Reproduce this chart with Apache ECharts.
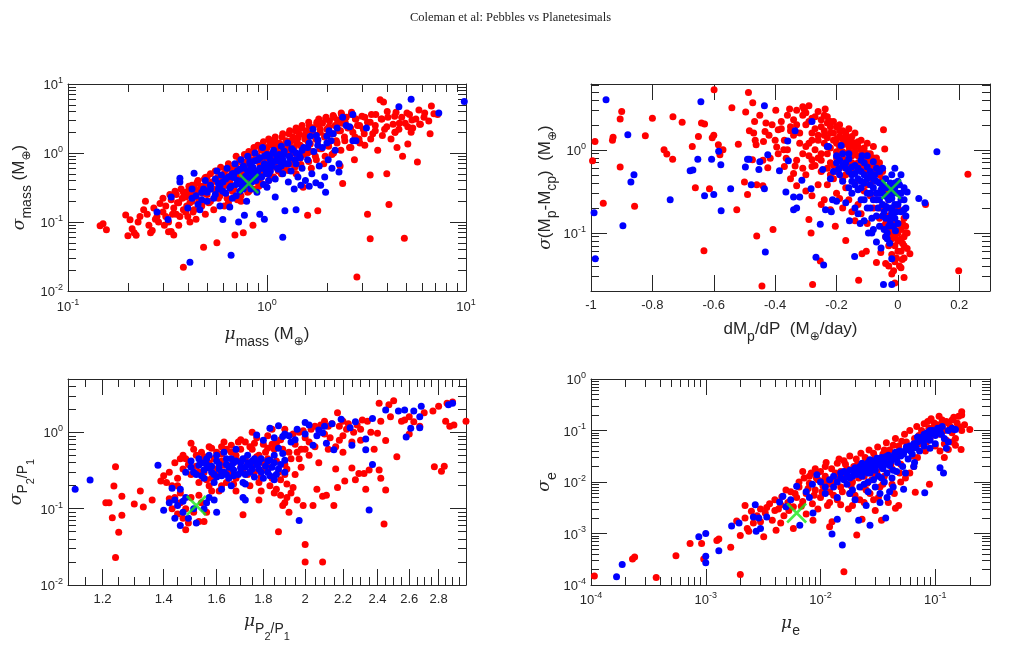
<!DOCTYPE html>
<html><head><meta charset="utf-8">
<script src="https://cdn.jsdelivr.net/npm/echarts@6/dist/echarts.min.js"></script>
<style>html,body{margin:0;padding:0;background:#fff}#c{width:1021px;height:663px}</style>
</head><body><div id="c"></div>
<script>
// ---------- Panel 1: mu_mass vs sigma_mass ----------
const massRed = [
[0.145,0.088],[0.15,0.094],[0.156,0.077],[0.195,0.126],[0.2,0.063],[0.205,0.108],[0.21,0.08],[0.215,0.07],[0.22,0.064],[0.225,0.1],[0.23,0.12],[0.24,0.15],[0.245,0.2],[0.25,0.13],[0.255,0.09],[0.26,0.07],[0.265,0.075],[0.27,0.16],[0.275,0.11],[0.28,0.12],[0.285,0.1],[0.29,0.185],[0.3,0.14],[0.3,0.22],[0.305,0.09],[0.31,0.12],[0.31,0.17],[0.32,0.072],[0.32,0.1],[0.325,0.25],[0.33,0.073],[0.33,0.21],[0.335,0.13],[0.34,0.065],[0.34,0.16],[0.345,0.28],[0.35,0.13],[0.35,0.25],[0.355,0.19],[0.36,0.09],[0.36,0.19],[0.365,0.12],[0.37,0.3],[0.375,0.22],[0.38,0.022],[0.38,0.15],[0.385,0.26],[0.39,0.23],[0.395,0.17],[0.4,0.12],[0.4,0.28],[0.405,0.33],[0.41,0.19],[0.415,0.25],[0.42,0.34],[0.425,0.14],[0.43,0.15],[0.435,0.29],[0.44,0.24],[0.445,0.37],[0.45,0.4],[0.455,0.2],[0.46,0.29],[0.465,0.33],[0.47,0.18],[0.475,0.26],[0.48,0.043],[0.485,0.42],[0.49,0.34],[0.5,0.25],[0.5,0.45],[0.51,0.31],[0.52,0.2],[0.52,0.5],[0.53,0.38],[0.54,0.3],[0.55,0.55],[0.55,0.23],[0.56,0.05],[0.565,0.44],[0.57,0.26],[0.58,0.42],[0.585,0.62],[0.59,0.35],[0.6,0.33],[0.61,0.5],[0.62,0.57],[0.63,0.22],[0.64,0.7],[0.65,0.39],[0.66,0.48],[0.67,0.6],[0.68,0.3],[0.69,0.065],[0.7,0.62],[0.7,0.9],[0.71,0.45],[0.72,0.36],[0.73,0.75],[0.74,0.2],[0.75,0.55],[0.76,0.07],[0.77,0.95],[0.78,0.5],[0.79,0.7],[0.8,0.27],[0.81,1.05],[0.82,0.35],[0.83,0.8],[0.85,0.09],[0.85,0.6],[0.86,1.2],[0.88,0.3],[0.89,0.9],[0.9,0.38],[0.9,1.3],[0.92,0.7],[0.94,1.1],[0.95,0.5],[0.96,1.45],[0.98,0.85],[1.0,1.2],[1.0,0.65],[1.02,1.6],[1.04,0.95],[1.05,0.45],[1.07,1.3],[1.08,0.75],[1.1,1.7],[1.12,1.05],[1.14,0.55],[1.15,1.4],[1.17,0.85],[1.2,1.9],[1.2,1.2],[1.22,0.6],[1.25,1.5],[1.27,0.95],[1.3,2.1],[1.3,1.25],[1.32,0.7],[1.35,1.7],[1.37,1.0],[1.4,2.3],[1.4,0.5],[1.42,1.4],[1.45,1.9],[1.47,0.85],[1.5,2.5],[1.5,1.2],[1.52,0.32],[1.55,1.6],[1.57,2.1],[1.6,0.125],[1.6,1.0],[1.62,2.8],[1.65,1.35],[1.67,0.6],[1.7,2.3],[1.72,1.8],[1.75,0.9],[1.78,2.6],[1.8,0.145],[1.8,1.5],[1.82,3.1],[1.85,2.0],[1.88,1.15],[1.9,2.7],[1.93,0.7],[1.95,1.7],[1.98,3.3],[2.0,2.2],[2.03,1.3],[2.06,2.9],[2.1,1.9],[2.12,0.95],[2.15,3.5],[2.2,2.5],[2.23,1.5],[2.26,3.0],[2.3,2.1],[2.33,0.65],[2.36,3.8],[2.4,0.36],[2.4,2.7],[2.45,1.7],[2.5,3.3],[2.55,2.3],[2.6,1.2],[2.65,3.6],[2.7,2.0],[2.75,0.8],[2.8,3.1],[2.83,0.016],[2.85,2.5],[2.9,1.6],[3.0,3.4],[3.05,2.2],[3.1,1.3],[3.2,0.13],[3.2,2.8],[3.3,0.057],[3.3,0.48],[3.35,3.6],[3.4,1.9],[3.5,2.5],[3.6,1.1],[3.7,5.9],[3.75,3.1],[3.85,5.5],[3.9,2.2],[4.0,0.5],[4.05,3.3],[4.1,0.18],[4.2,1.6],[4.3,2.6],[4.45,3.9],[4.5,1.2],[4.6,2.2],[4.75,3.3],[4.8,0.9],[4.9,0.058],[4.95,2.7],[5.1,1.35],[5.2,3.6],[5.4,2.3],[5.6,3.1],[5.7,0.74],[5.9,2.6],[6.2,3.8],[6.5,2.9],[6.7,4.8],[6.9,3.7],[7.2,3.6],[6.6,1.9],[5.3,2.0],[4.4,2.0],
[0.41,0.1],[0.39,0.14],[0.42,0.2],[0.38,0.27],[0.43,0.32],[0.44,0.11],[0.47,0.17],[0.43,0.23],[0.47,0.31],[0.49,0.13],[0.51,0.19],[0.48,0.27],[0.52,0.36],[0.49,0.44],[0.54,0.15],[0.57,0.22],[0.53,0.3],[0.57,0.4],[0.61,0.17],[0.58,0.24],[0.62,0.34],[0.59,0.46],[0.63,0.6],[0.64,0.19],[0.67,0.28],[0.63,0.38],[0.67,0.52],[0.71,0.21],[0.68,0.3],[0.72,0.42],[0.69,0.58],[0.73,0.8],[0.74,0.24],[0.77,0.33],[0.73,0.47],[0.77,0.66],[0.81,0.28],[0.78,0.38],[0.83,0.55],[0.79,0.75],[0.84,1.0],[0.84,0.3],[0.87,0.42],[0.83,0.6],[0.88,0.85],[0.91,0.33],[0.88,0.46],[0.93,0.65],[0.89,0.92],[0.93,1.15],[0.94,0.36],[0.97,0.5],[0.93,0.72],[0.98,1.0],[1.02,0.4],[0.98,0.55],[1.03,0.78],[0.99,1.1],[1.04,1.4],[1.08,0.45],[1.11,0.62],[1.07,0.88],[1.12,1.25],[1.09,1.55],[1.18,0.5],[1.22,0.7],[1.17,0.98],[1.23,1.35],[1.19,1.7],[1.28,0.56],[1.32,0.78],[1.27,1.1],[1.33,1.5],[1.29,1.9],[1.38,0.62],[1.42,0.86],[1.37,1.2],[1.43,1.65],[1.39,2.1],[1.48,0.68],[1.53,0.95],[1.47,1.3],[1.54,1.8],[1.49,2.3],[1.62,0.75],[1.68,1.05],[1.61,1.45],[1.69,2.0],[1.63,2.5],[1.77,0.8],[1.84,1.15],[1.76,1.6],[1.85,2.2],[1.78,2.8],[1.96,0.9],[2.04,1.25],[1.95,1.75],[2.05,2.4],[1.97,3.1],[2.16,1.0],[2.25,1.4],[2.15,1.9],[2.26,2.6],[2.17,3.3],[2.35,1.1],[2.46,1.5],[2.34,2.1],[2.47,2.8],[2.37,3.6],[2.64,1.2],[2.77,1.7],[2.63,2.3],[2.78,3.1],[2.66,3.9],[2.93,1.4],[3.08,1.9],[2.92,2.5],[3.1,3.3],[3.32,1.6],[3.5,2.1],[3.3,2.8],[3.52,3.6],[3.8,1.8],[4.0,2.4],[3.78,3.1],[4.02,4.0],[4.4,2.0],[4.62,2.7],[4.38,3.4],[5.1,2.4],[5.35,3.0],[5.05,3.8],[5.85,2.6],[6.15,3.3],[5.8,4.2]
];
const massBlue = [
[0.28,0.14],[0.318,0.109],[0.33,0.23],[0.365,0.43],[0.365,0.38],[0.41,0.026],[0.42,0.3],[0.43,0.51],[0.44,0.24],[0.46,0.15],[0.47,0.21],[0.48,0.3],[0.49,0.4],[0.5,0.27],[0.52,0.34],[0.54,0.22],[0.55,0.42],[0.56,0.55],[0.57,0.3],[0.58,0.17],[0.59,0.48],[0.6,0.109],[0.6,0.38],[0.62,0.26],[0.63,0.6],[0.64,0.45],[0.65,0.165],[0.66,0.033],[0.66,0.33],[0.67,0.22],[0.68,0.5],[0.69,0.7],[0.7,0.24],[0.71,0.4],[0.72,0.1],[0.73,0.58],[0.74,0.8],[0.75,0.33],[0.76,0.65],[0.77,0.125],[0.78,0.46],[0.79,0.2],[0.8,0.9],[0.8,0.55],[0.82,0.75],[0.83,0.3],[0.84,0.42],[0.85,0.62],[0.87,1.0],[0.88,0.5],[0.89,0.27],[0.9,0.8],[0.92,0.13],[0.92,0.6],[0.94,0.45],[0.95,1.2],[0.96,0.35],[0.97,0.11],[0.97,0.7],[0.99,0.55],[1.0,0.95],[1.0,0.32],[1.02,0.5],[1.04,0.8],[1.06,0.65],[1.08,1.1],[1.1,0.23],[1.1,0.42],[1.12,0.9],[1.14,0.58],[1.16,0.75],[1.18,1.25],[1.2,0.06],[1.2,0.5],[1.22,0.95],[1.23,0.145],[1.25,0.7],[1.27,1.4],[1.28,0.38],[1.3,0.85],[1.32,0.55],[1.35,1.1],[1.37,0.3],[1.4,0.15],[1.4,0.7],[1.43,0.45],[1.45,0.95],[1.48,0.34],[1.5,0.6],[1.53,1.2],[1.56,0.4],[1.6,0.8],[1.63,0.33],[1.65,1.75],[1.68,0.5],[1.7,2.2],[1.72,1.05],[1.76,0.37],[1.8,1.55],[1.83,0.65],[1.86,0.34],[1.9,1.2],[1.95,0.45],[1.97,0.27],[2.0,1.75],[2.03,0.8],[2.05,2.1],[2.1,1.5],[2.12,0.6],[2.15,1.9],[2.2,1.1],[2.3,0.7],[2.3,0.53],[2.4,3.3],[2.5,2.5],[2.6,2.4],[2.7,3.6],[2.7,1.5],[2.8,1.5],[3.16,2.3],[4.6,4.7],[5.3,6.0],[7.3,3.8],[9.8,5.6],
[0.4,0.16],[0.42,0.22],[0.45,0.18],[0.47,0.27],[0.5,0.2],[0.52,0.3],[0.55,0.25],[0.57,0.36],[0.6,0.28],[0.62,0.42],[0.65,0.31],[0.67,0.5],[0.7,0.35],[0.71,0.55],[0.73,0.28],[0.75,0.4],[0.77,0.6],[0.76,0.3],[0.8,0.45],[0.82,0.7],[0.79,0.35],[0.85,0.5],[0.87,0.77],[0.84,0.38],[0.9,0.55],[0.92,0.85],[0.88,0.4],[0.95,0.6],[0.97,0.9],[0.93,0.45],[1.0,0.66],[1.03,0.86],[0.99,0.5],[1.02,0.4],[1.05,0.7],[1.07,1.0],[1.04,0.55],[1.1,0.76],[1.13,0.6],[1.2,0.8],[1.22,1.06],[1.18,0.65],[1.3,0.9],[1.33,1.15],[1.28,0.7],[1.4,1.0],[1.38,0.8],[1.5,1.1],[1.47,0.85],[1.6,1.2],[1.63,1.4],[1.8,1.3],[1.77,1.8],[2.0,1.4],[2.25,2.3],[1.15,0.95],[0.83,0.58],[0.68,0.44],[0.58,0.33]
];
const massBest = [[0.81,0.36]];

// ---------- Panel 2: dMp/dP vs sigma(Mp-Mcp) ----------
const slopeRed = [
[-0.995,0.74],[-0.987,1.26],[-0.96,0.227],[-0.93,1.3],[-0.928,1.42],[-0.905,0.62],[-0.905,2.35],[-0.9,2.9],[-0.858,0.21],[-0.823,1.48],[-0.8,2.4],[-0.762,1.0],[-0.753,0.89],[-0.734,0.77],[-0.733,2.5],[-0.703,2.15],[-0.67,1.1],[-0.66,0.35],[-0.65,1.45],[-0.64,2.1],[-0.632,0.061],[-0.63,2.05],[-0.614,0.34],[-0.605,1.4],[-0.6,1.5],[-0.599,5.3],[-0.585,1.15],[-0.58,0.87],[-0.57,1.0],[-0.541,3.2],[-0.525,0.19],[-0.52,1.17],[-0.5,0.41],[-0.496,2.85],[-0.49,0.29],[-0.487,4.9],[-0.484,1.7],[-0.474,0.76],[-0.473,3.7],[-0.467,2.2],[-0.465,1.3],[-0.462,1.15],[-0.46,0.38],[-0.46,0.092],[-0.443,0.023],[-0.44,0.37],[-0.438,1.26],[-0.433,1.66],[-0.424,0.61],[-0.416,0.79],[-0.407,0.11],[-0.398,3.0],[-0.395,1.08],[-0.39,1.75],[-0.38,2.2],[-0.372,1.0],[-0.37,0.63],[-0.364,0.79],[-0.353,3.1],[-0.35,1.9],[-0.34,0.52],[-0.335,0.64],[-0.33,0.37],[-0.31,3.3],[-0.305,3.05],[-0.29,0.145],[-0.283,0.1],[-0.28,0.76],[-0.28,0.63],[-0.278,0.024],[-0.253,0.046],[-0.237,3.1],[-0.23,2.1],[-0.204,0.12],[-0.17,0.081],[-0.128,0.027],[-0.117,0.056],[-0.103,0.06],[-0.07,0.044],[-0.056,0.058],[-0.047,1.75],[-0.043,1.02],[-0.04,0.043],[-0.014,0.035],[-0.01,0.025],[0.02,0.029],[0.014,0.048],[0.039,0.056],[0.09,0.22],[0.198,0.035],[0.228,0.51],
[-0.3,2.8],[-0.29,2.2],[-0.28,1.6],[-0.27,2.5],[-0.26,1.3],[-0.25,1.9],[-0.25,0.9],[-0.24,1.5],[-0.23,1.1],[-0.22,0.7],[-0.22,1.6],[-0.21,1.3],[-0.2,0.95],[-0.2,1.9],[-0.19,1.45],[-0.19,0.6],[-0.18,1.15],[-0.18,0.8],[-0.17,1.6],[-0.17,0.5],[-0.16,1.3],[-0.16,0.95],[-0.15,0.7],[-0.15,1.45],[-0.14,1.1],[-0.14,0.4],[-0.13,0.85],[-0.13,1.25],[-0.12,0.6],[-0.12,1.0],[-0.11,0.75],[-0.11,0.32],[-0.1,0.9],[-0.1,0.5],[-0.09,0.65],[-0.09,0.28],[-0.08,0.8],[-0.08,0.2],[-0.07,0.55],[-0.06,0.15],[-0.06,0.7],[-0.05,0.12],[-0.05,0.45],[-0.04,0.09],[-0.03,0.07],[-0.03,0.25],[-0.02,0.1],[-0.02,0.055],[-0.01,0.14],[-0.01,0.045],[0.0,0.08],[0.0,0.2],[0.01,0.11],[0.01,0.06],[0.02,0.09],[0.02,0.15],[0.03,0.1],[0.03,0.065],[-0.21,0.45],[-0.23,0.38],[-0.25,0.55],[-0.27,0.65],[-0.28,0.28],[-0.24,0.25],[-0.2,0.3],[-0.18,0.2],[-0.16,0.25],[-0.15,0.18],[-0.14,0.14],[-0.13,0.22],[-0.12,0.17],[-0.1,0.13],[-0.32,1.2],[-0.33,2.0],[-0.34,1.5],[-0.36,2.6],[-0.37,1.3],[-0.39,0.9],[-0.41,2.0],[-0.42,1.5],[-0.44,0.75],[-0.45,2.6],[-0.31,0.9],[-0.3,0.5],[-0.29,1.2],[-0.26,0.8],[-0.24,2.6],[-0.22,2.2],[-0.2,1.35],[-0.19,2.0],[-0.18,1.7],[-0.17,1.2],[-0.16,1.8],[-0.15,1.1],[-0.14,1.6],[-0.13,0.6],[-0.12,1.3],[-0.11,1.05],[-0.1,1.2],[-0.09,0.9],[-0.08,1.1],[-0.07,0.8],[-0.06,0.5],[-0.05,0.35],[-0.04,0.3],[-0.02,0.18],[-0.01,0.09],[0.0,0.13],[0.005,0.04],[0.015,0.075],[0.025,0.12],[-0.03,0.04],[-0.02,0.032],[-0.23,0.9],[-0.21,0.65],[-0.19,0.85],[-0.17,0.35],[-0.35,0.45],[-0.33,0.75],[-0.3,0.32],[-0.26,0.38],[-0.25,0.22],[-0.22,0.19],[-0.19,0.26],
[-0.33,3.0],[-0.31,2.6],[-0.3,2.0],[-0.29,3.4],[-0.28,2.4],[-0.27,1.8],[-0.26,2.9],[-0.26,1.5],[-0.25,2.3],[-0.24,1.7],[-0.24,1.2],[-0.23,2.5],[-0.23,1.4],[-0.22,1.9],[-0.22,1.05],[-0.21,2.2],[-0.21,1.6],[-0.2,1.2],[-0.2,0.8],[-0.19,1.7],[-0.19,1.1],[-0.18,1.35],[-0.18,0.95],[-0.17,1.5],[-0.17,0.75],[-0.16,1.1],[-0.16,0.65],[-0.15,1.25],[-0.15,0.85],[-0.14,0.95],[-0.14,0.55],[-0.13,1.1],[-0.13,0.7],[-0.12,0.85],[-0.11,0.95],[-0.11,0.55],[-0.1,0.7],[-0.1,0.38],[-0.09,0.8],[-0.08,0.6],[-0.08,0.42],[-0.07,0.7],[-0.07,0.3],[-0.06,0.6],[-0.05,0.55],[-0.04,0.2],[-0.03,0.16],[-0.02,0.13],[-0.01,0.11],[0.0,0.1],[0.01,0.085],[0.015,0.13],[0.02,0.07],[0.025,0.1],[0.0,0.06],[-0.01,0.07],[-0.02,0.085],[-0.03,0.11],[-0.04,0.13],[-0.05,0.16],[-0.06,0.2],[-0.005,0.05],[0.01,0.038],[0.02,0.05],[-0.35,1.7],[-0.34,2.3],[-0.32,1.6],[-0.3,1.1],[-0.28,1.3],[-0.27,1.0],[-0.25,0.75],[-0.23,0.6],[-0.22,0.5],[-0.2,0.55],[-0.18,0.45],[-0.29,0.85],[-0.31,0.6],[-0.4,1.3],[-0.38,1.8],[-0.36,1.0],[-0.43,2.1],[-0.47,1.6]
];
const slopeBlue = [
[-0.99,0.175],[-0.986,0.049],[-0.951,4.0],[-0.896,0.122],[-0.88,1.52],[-0.86,0.5],[-0.87,0.41],[-0.742,0.25],[-0.677,0.56],[-0.668,0.57],[-0.652,0.77],[-0.642,3.8],[-0.63,0.28],[-0.607,0.77],[-0.6,0.29],[-0.584,0.96],[-0.577,0.66],[-0.576,0.185],[-0.545,0.34],[-0.497,0.62],[-0.49,0.77],[-0.485,0.77],[-0.478,0.38],[-0.453,0.58],[-0.45,0.72],[-0.435,3.4],[-0.435,0.34],[-0.432,0.059],[-0.424,0.87],[-0.386,0.56],[-0.365,0.31],[-0.359,1.28],[-0.357,0.74],[-0.34,0.27],[-0.34,0.19],[-0.335,1.7],[-0.33,0.2],[-0.32,0.27],[-0.313,0.43],[-0.283,0.34],[-0.28,2.2],[-0.267,0.051],[-0.253,0.127],[-0.245,0.58],[-0.242,0.041],[-0.236,0.19],[-0.226,1.1],[-0.217,0.18],[-0.213,0.25],[-0.2,0.24],[-0.193,0.59],[-0.185,1.13],[-0.158,0.14],[-0.141,0.052],[-0.123,0.13],[-0.117,0.85],[-0.096,0.1],[-0.085,0.1],[-0.07,0.078],[-0.055,0.066],[-0.047,0.024],[-0.027,0.075],[-0.02,0.024],[-0.02,0.049],[-0.008,0.106],[0.026,0.2],[0.026,0.16],[0.03,0.31],[0.068,0.26],[0.088,0.23],[0.127,0.95],
[-0.12,0.55],[-0.11,0.7],[-0.11,0.4],[-0.1,0.62],[-0.1,0.3],[-0.09,0.48],[-0.09,0.2],[-0.08,0.72],[-0.08,0.35],[-0.07,0.42],[-0.07,0.25],[-0.07,0.16],[-0.06,0.55],[-0.06,0.3],[-0.06,0.12],[-0.05,0.38],[-0.05,0.22],[-0.05,0.6],[-0.04,0.45],[-0.04,0.28],[-0.04,0.15],[-0.04,0.09],[-0.03,0.35],[-0.03,0.2],[-0.03,0.12],[-0.02,0.5],[-0.02,0.26],[-0.02,0.17],[-0.01,0.4],[-0.01,0.6],[-0.01,0.22],[0,0.3],[0,0.13],[0.01,0.5],[0.01,0.25],[0.02,0.35],[0.02,0.19],[-0.13,0.45],[-0.14,0.65],[-0.15,0.5],[-0.16,0.35],[-0.17,0.6],[-0.18,0.42],[-0.2,0.7],[-0.21,0.55],[-0.22,0.45],[-0.12,0.25],[-0.13,0.17],[-0.11,0.14],[-0.08,0.11],[-0.09,0.38],[-0.075,0.5],[-0.065,0.2],[-0.055,0.33],[-0.045,0.18],[-0.035,0.27],[-0.025,0.4],[-0.015,0.3],[-0.005,0.18],[0.005,0.38],[-0.1,0.85],[-0.12,0.75],[-0.15,0.3],[-0.14,0.2],[-0.17,0.23],[-0.19,0.5],[-0.23,1.1],[-0.16,0.9],[-0.085,0.15],[-0.045,0.11],[-0.035,0.085],
[-0.2,0.85],[-0.19,0.75],[-0.18,0.9],[-0.18,0.65],[-0.17,0.7],[-0.16,0.55],[-0.16,0.78],[-0.15,0.62],[-0.15,0.42],[-0.14,0.52],[-0.14,0.38],[-0.13,0.6],[-0.13,0.33],[-0.12,0.42],[-0.12,0.35],[-0.11,0.5],[-0.11,0.25],[-0.1,0.45],[-0.1,0.2],[-0.09,0.3],[-0.09,0.55],[-0.08,0.25],[-0.08,0.45],[-0.07,0.3],[-0.07,0.6],[-0.06,0.25],[-0.06,0.4],[-0.05,0.3],[-0.05,0.16],[-0.04,0.35],[-0.04,0.21],[-0.03,0.25],[-0.03,0.15],[-0.02,0.3],[-0.02,0.2],[-0.01,0.35],[-0.01,0.15],[0.0,0.22],[0.0,0.42],[0.01,0.3],[0.01,0.18],[0.02,0.25],[-0.025,0.13],[-0.035,0.1],[-0.015,0.12]
];
const slopeBest = [[-0.022,0.334]];

// ---------- Panel 3: mu_{P2/P1} vs sigma_{P2/P1} ----------
const periodRed = [
[1.21,0.12],[1.22,0.12],[1.235,0.198],[1.24,0.355],[1.24,0.023],[1.23,0.076],[1.25,0.049],[1.26,0.082],[1.26,0.146],[1.3,0.115],[1.32,0.17],[1.33,0.105],[1.36,0.13],[1.39,0.23],[1.4,0.27],
[1.42,0.135],[1.43,0.1],[1.44,0.14],[1.45,0.085],[1.46,0.12],[1.47,0.075],[1.48,0.053],[1.48,0.1],[1.5,0.14],[1.51,0.09],[1.53,0.068],[1.55,0.068],[1.56,0.09],[1.54,0.12],[1.49,0.065],[1.46,0.16],
[1.42,0.3],[1.44,0.4],[1.45,0.25],[1.47,0.33],[1.48,0.45],[1.5,0.28],[1.5,0.72],[1.52,0.36],[1.53,0.22],[1.55,0.48],[1.55,0.3],[1.57,0.4],[1.58,0.25],[1.6,0.55],[1.6,0.33],[1.62,0.2],[1.62,0.42],[1.64,0.6],[1.65,0.3],[1.66,0.37],[1.68,0.5],[1.68,0.25],[1.7,0.8],[1.7,0.35],[1.71,0.083],[1.72,0.45],[1.73,0.28],[1.75,1.0],[1.75,0.6],[1.76,0.38],[1.78,0.5],[1.78,0.22],[1.8,0.7],[1.8,0.32],[1.82,0.9],[1.82,0.45],[1.84,0.25],[1.85,0.6],[1.86,0.18],[1.87,0.05],[1.88,0.15],[1.89,0.11],[1.9,0.12],[1.9,0.38],[1.91,0.21],[1.92,0.09],[1.93,0.16],[1.88,0.8],[1.9,1.1],[1.92,0.55],
[1.58,0.62],[1.63,0.75],[1.66,0.68],[1.72,0.75],[1.77,0.85],[1.84,1.1],[1.86,0.72],[1.94,0.95],[1.97,1.0],[1.52,0.5],[1.57,0.2],[1.61,0.17],[1.67,0.21],[1.74,0.2],[1.79,0.17],[1.83,0.2],[1.85,0.16],
[1.95,0.7],[1.97,0.45],[1.99,0.11],[2.0,0.034],[2.0,0.02],[2.0,0.85],[2.02,0.5],[2.04,0.11],[2.05,1.2],[2.06,0.18],[2.07,0.4],[2.09,0.145],[2.09,0.02],[2.1,0.95],[2.11,0.15],[2.12,0.6],[2.14,1.3],[2.15,0.11],[2.16,0.33],[2.17,0.19],[2.17,1.8],[2.18,0.79],[2.2,0.55],[2.21,0.23],[2.22,1.1],[2.25,0.34],[2.25,0.75],[2.27,0.24],[2.28,1.25],[2.29,0.29],[2.3,0.79],[2.32,0.29],[2.33,0.18],[2.34,1.4],[2.35,0.32],[2.36,1.0],[2.38,0.6],[2.4,0.97],[2.41,0.32],[2.41,2.4],[2.42,1.4],[2.42,0.25],[2.44,0.063],[2.45,0.175],[2.45,0.78],[2.47,2.3],[2.48,1.6],[2.52,0.48],[2.55,1.4],[2.57,1.45],[2.6,0.95],[2.63,1.38],[2.67,1.2],[2.7,1.8],[2.76,1.9],[2.77,0.355],[2.82,0.31],[2.84,0.36],[2.85,1.4],[2.88,1.2],[2.9,2.5],[2.91,1.25],[3.0,1.4],[2.8,2.2],[2.86,2.4],[2.5,2.6],[2.6,1.6],[2.3,1.1],[2.2,1.4],[2.12,1.2],[2.05,0.65],[1.98,0.6],
[1.45,0.2],[1.47,0.5],[1.49,0.38],[1.51,0.6],[1.53,0.3],[1.54,0.55],[1.56,0.24],[1.57,0.65],[1.59,0.45],[1.61,0.3],[1.62,0.52],[1.63,0.37],[1.64,0.22],[1.66,0.55],[1.67,0.28],[1.69,0.42],[1.7,0.6],[1.71,0.3],[1.73,0.38],[1.74,0.65],[1.76,0.3],[1.77,0.48],[1.79,0.26],[1.8,0.4],[1.81,0.55],[1.83,0.35],[1.84,0.7],[1.86,0.42],[1.87,0.3],[1.89,0.6],[1.91,0.33],[1.93,0.45],[1.95,0.28],[1.96,0.55],[1.98,0.35],[2.0,0.6],[2.02,0.75],[1.9,0.28],[1.88,0.24],[1.82,0.62],[1.76,0.72],[1.69,0.75],[1.62,0.65],[1.55,0.4],[1.43,0.2],[1.41,0.22],[1.46,0.45],[1.53,0.15],[1.58,0.17],[1.68,0.17],[1.78,0.13],[1.91,0.14],[1.94,0.19],[1.96,0.13],[2.08,1.25],[2.1,1.4],[2.03,1.1],[1.99,1.05],[2.13,0.85],[2.18,1.2],[2.23,1.3],[2.26,1.0],[2.31,1.45],[2.2,0.9],[2.16,0.65]
];
const periodBlue = [
[1.12,0.18],[1.163,0.237],[1.38,0.37],[1.4,0.095],[1.42,0.12],[1.43,0.185],[1.44,0.075],[1.46,0.18],[1.46,0.06],[1.47,0.125],[1.55,0.1],[1.6,0.09],[1.59,0.13],[1.62,0.18],[1.66,0.2],[1.71,0.14],[1.72,0.13],[1.72,0.21],[1.97,0.07],[2.35,0.096],[2.37,0.38],[2.33,0.59],[2.15,0.59],[2.25,0.68],[2.27,1.38],[2.19,1.48],[2.24,1.15],[2.33,0.82],[2.37,1.52],[2.45,1.96],[2.53,1.9],[2.57,1.96],[2.63,1.9],[2.67,1.6],[2.68,2.2],[2.61,1.13],[2.58,0.87],[2.67,1.15],[2.87,2.3],[2.9,2.4],[2.0,1.35],[1.87,1.22],[1.83,1.13],[1.77,0.92],[1.8,0.79],[1.89,0.88],[1.92,0.9],[1.83,0.43],[1.87,0.62],[1.89,0.53],[1.9,0.43],[2.07,1.07],[2.04,0.68],[2.09,0.99],[2.11,0.72],[1.95,0.8],[1.85,0.5],
[1.5,0.35],[1.52,0.28],[1.53,0.45],[1.55,0.25],[1.56,0.38],[1.57,0.5],[1.58,0.3],[1.59,0.22],[1.6,0.42],[1.61,0.33],[1.62,0.27],[1.63,0.55],[1.64,0.38],[1.65,0.25],[1.66,0.45],[1.67,0.32],[1.68,0.6],[1.69,0.28],[1.7,0.4],[1.71,0.22],[1.72,0.35],[1.73,0.5],[1.74,0.3],[1.75,0.42],[1.76,0.26],[1.77,0.38],[1.78,0.33],[1.8,0.25],[1.82,0.3],[1.84,0.35],[1.85,0.24],[1.86,0.28],[1.55,0.32],[1.6,0.26],[1.65,0.35],[1.7,0.3],[1.54,0.4],[1.58,0.36],[1.63,0.3],[1.67,0.4],[1.74,0.37],[1.79,0.45],[1.48,0.3],
[1.5,0.42],[1.51,0.3],[1.53,0.37],[1.54,0.27],[1.56,0.45],[1.57,0.34],[1.59,0.28],[1.6,0.5],[1.61,0.38],[1.62,0.3],[1.64,0.45],[1.64,0.28],[1.66,0.36],[1.67,0.27],[1.68,0.42],[1.7,0.34],[1.71,0.45],[1.72,0.28],[1.73,0.4],[1.75,0.33],[1.76,0.45],[1.78,0.4],[1.79,0.3],[1.81,0.36],[1.82,0.42],[1.83,0.27],[1.85,0.4],[1.87,0.33],[1.88,0.38],[1.9,0.3],[1.45,0.11],[1.47,0.09],[1.49,0.075],[1.51,0.1],[1.44,0.13],[1.48,0.14],[1.52,0.065],[1.56,0.12],[1.57,0.14],[1.9,0.95],[1.96,1.1],[2.02,1.25],[2.06,0.9],[1.85,0.85],[1.93,0.75],[2.1,1.2],[2.14,1.3],[2.0,0.95]
];
const periodBest = [[1.52,0.11]];

// ---------- Panel 4: mu_e vs sigma_e ----------
const eccRed = [
[1.07e-4,1.5e-4],[2.3e-4,3.2e-4],[2.4e-4,3.5e-4],[3.7e-4,1.4e-4],[5.5e-4,3.7e-4],[7.3e-4,6.4e-4],[9.2e-4,6.4e-4],[9.6e-4,3.2e-4],[1.25e-3,7.3e-4],[1.3e-3,7.8e-4],[1.65e-3,5.4e-4],[2.0e-3,1.6e-4],[2.0e-3,9.1e-4],[1.86e-3,1.75e-3],[2.2e-3,3.5e-3],[2.37e-3,1.1e-3],[2.3e-3,1.25e-3],[3.2e-3,8.6e-4],[4.1e-3,1.15e-3],[5.8e-3,1.25e-3],[8.6e-3,1.8e-3],[1.26e-2,1.7e-3],[1.2e-2,1.35e-3],[1.6e-2,1.8e-4],[2.07e-2,9.3e-4],[2.3e-2,1.9e-3],[3.4e-2,1.8e-3],[4.5e-2,3.1e-3],[6.7e-2,6.3e-3],[8.9e-2,9e-3],[0.168,0.043],[0.2,0.105],[0.17,0.23],[0.17,0.1],[0.15,0.052],
[2.8e-3,2.2e-3],[3.0e-3,3.0e-3],[3.3e-3,2.5e-3],[3.6e-3,3.8e-3],[3.8e-3,1.8e-3],[4.0e-3,4.5e-3],[4.3e-3,3.0e-3],[4.6e-3,5.2e-3],[4.8e-3,2.2e-3],[5.2e-3,4.0e-3],[5.5e-3,6.5e-3],[5.8e-3,3.3e-3],[6.2e-3,5.0e-3],[6.5e-3,8.0e-3],[7.0e-3,4.2e-3],[7.5e-3,6.0e-3],[8.0e-3,9.5e-3],[8.5e-3,3.8e-3],[9.0e-3,7.0e-3],[9.5e-3,1.1e-2],[1.0e-2,5.0e-3],[1.05e-2,8.5e-3],[1.1e-2,1.3e-2],[1.15e-2,3.5e-3],[1.2e-2,6.5e-3],[1.3e-2,1.0e-2],[1.35e-2,1.5e-2],[1.4e-2,4.5e-3],[1.5e-2,8.0e-3],[1.6e-2,1.2e-2],[1.7e-2,1.8e-2],[1.75e-2,3.0e-3],[1.8e-2,6.0e-3],[1.9e-2,1.0e-2],[2.0e-2,1.5e-2],[2.1e-2,2.2e-2],[2.2e-2,4.5e-3],[2.3e-2,8.0e-3],[2.4e-2,1.3e-2],[2.5e-2,2.5e-2],[2.6e-2,1.8e-2],[2.7e-2,6.0e-3],[2.8e-2,1.1e-2],[3.0e-2,3.0e-2],[3.1e-2,1.6e-2],[3.2e-2,2.2e-2],[3.3e-2,8.0e-3],[3.5e-2,3.5e-2],[3.6e-2,1.3e-2],[3.8e-2,2.6e-2],[4.0e-2,4.2e-2],[4.2e-2,1.8e-2],[4.4e-2,6.0e-3],[4.5e-2,3.0e-2],[4.8e-2,5.0e-2],[5.0e-2,2.2e-2],[5.3e-2,3.8e-2],[5.6e-2,6.0e-2],[6.0e-2,1.5e-2],[6.3e-2,4.5e-2],[6.6e-2,7.0e-2],[7.0e-2,3.0e-2],[7.4e-2,5.5e-2],[7.8e-2,9.0e-2],[8.2e-2,4.0e-2],[8.6e-2,0.15],[9.0e-2,0.07],[9.5e-2,0.11],[0.1,0.05],[0.105,0.13],[0.11,0.085],[0.115,0.16],[0.12,0.1],[0.125,0.065],[0.13,0.14],[0.14,0.09],[0.145,0.18],[0.16,0.12],[0.17,0.2],[0.15,0.07],[0.13,0.043],[0.12,0.03],
[9e-3,1.8e-2],[1.1e-2,2.0e-2],[1.4e-2,2.3e-2],[1.6e-2,2.6e-2],[7e-3,1.6e-2],[8e-3,1.3e-2],[2.5e-2,7e-3],[3.5e-2,9e-3],[5.5e-2,1.2e-2],[6.5e-2,2.0e-2],[3.9e-2,4.0e-3],[2.9e-2,4.5e-3],[1.9e-2,3.5e-3],[4.5e-3,1.6e-3],[2.6e-3,1.6e-3],
[6.5e-3,1.0e-2],[7.2e-3,1.2e-2],[7.8e-3,7.5e-3],[8.3e-3,1.5e-2],[8.8e-3,5.5e-3],[9.2e-3,1.2e-2],[1.0e-2,1.6e-2],[1.03e-2,6.5e-3],[1.08e-2,1.1e-2],[1.12e-2,2.4e-2],[1.18e-2,9e-3],[1.25e-2,1.8e-2],[1.3e-2,5.5e-3],[1.38e-2,1.25e-2],[1.45e-2,2.8e-2],[1.5e-2,1.6e-2],[1.55e-2,6.5e-3],[1.65e-2,2.2e-2],[1.72e-2,1.3e-2],[1.8e-2,3.2e-2],[1.85e-2,8.5e-3],[1.95e-2,2.0e-2],[2.05e-2,2.8e-2],[2.15e-2,1.2e-2],[2.25e-2,3.6e-2],[2.35e-2,1.8e-2],[2.45e-2,3.0e-2],[2.55e-2,9.5e-3],[2.65e-2,4.2e-2],[2.75e-2,2.2e-2],[2.9e-2,3.6e-2],[3.0e-2,1.4e-2],[3.15e-2,4.8e-2],[3.3e-2,2.8e-2],[3.45e-2,1.9e-2],[3.6e-2,4.2e-2],[3.75e-2,5.8e-2],[3.9e-2,3.0e-2],[4.1e-2,2.2e-2],[4.3e-2,5.2e-2],[4.5e-2,7.0e-2],[4.7e-2,3.6e-2],[4.9e-2,1.5e-2],[5.1e-2,6.2e-2],[5.4e-2,8.5e-2],[5.7e-2,4.5e-2],[6.0e-2,0.1],[6.3e-2,3.2e-2],[6.6e-2,5.5e-2],[6.9e-2,0.12],[7.2e-2,8.0e-2],[7.6e-2,0.1],[8.0e-2,0.135],[8.4e-2,6.0e-2],[8.8e-2,0.11],[9.2e-2,0.17],[9.8e-2,0.14],[0.108,0.19],[0.115,0.12],[0.125,0.15],[0.135,0.12],[0.14,0.16],[0.155,0.14],[0.16,0.19],[0.18,0.13],[0.12,0.055],[0.14,0.06],[0.11,0.04],[4.0e-3,2.8e-3],[4.5e-3,3.6e-3],[5.0e-3,7.0e-3],[5.3e-3,2.8e-3],[6.0e-3,6.0e-3],[6.8e-3,3.4e-3],[3.4e-3,3.2e-3],[3.0e-3,1.7e-3],[2.5e-3,2.7e-3],[2.2e-3,2.0e-3],[7.5e-3,2.4e-3],[9.5e-3,3.0e-3],[1.2e-2,4.0e-3],[1.5e-2,3.6e-3],[2.0e-2,5.5e-3],[2.4e-2,4.0e-3],[3.2e-2,5.0e-3],[4.2e-2,9.0e-3],[5.0e-2,1.0e-2],[3.0e-2,2.8e-3],[4.8e-2,3.5e-3]
];
const eccBlue = [
[1.67e-4,1.45e-4],[1.87e-4,2.5e-4],[8.7e-4,8.6e-4],[1.0e-3,1.0e-3],[1.0e-3,3.6e-4],[1.0e-3,2.7e-4],[1.3e-3,4.6e-4],[1.68e-3,1.4e-3],[1.95e-3,1.6e-3],[2.7e-3,3.6e-3],[2.6e-3,2.1e-3],[2.9e-3,2.0e-3],[2.75e-3,1.1e-3],[3.0e-3,1.25e-3],[3.4e-3,2.1e-3],[4.4e-3,4.1e-3],[4.7e-3,5.3e-3],[5.0e-3,3.3e-3],[6.2e-3,8.3e-3],[6.6e-3,1.45e-3],[8.6e-3,2.5e-3],[9.3e-3,1.38e-2],[1.26e-2,9.8e-4],[1.4e-2,1.9e-3],[1.55e-2,6e-4],[2.15e-2,1.8e-3],[2.7e-2,1.45e-3],[3.7e-2,2.0e-3],[5.3e-2,7.2e-3],[8.1e-2,6.2e-3],[0.11,1.9e-2],[0.118,1.5e-2],[0.146,0.105],[0.13,0.06],
[2.0e-2,1.6e-2],[2.2e-2,2.0e-2],[2.3e-2,1.3e-2],[2.5e-2,1.8e-2],[2.6e-2,2.4e-2],[2.7e-2,1.5e-2],[2.8e-2,2.0e-2],[3.0e-2,1.7e-2],[3.0e-2,2.6e-2],[3.2e-2,1.3e-2],[3.3e-2,2.2e-2],[3.4e-2,3.0e-2],[3.5e-2,1.8e-2],[3.6e-2,2.5e-2],[3.8e-2,1.5e-2],[3.9e-2,3.3e-2],[4.0e-2,2.1e-2],[4.2e-2,2.8e-2],[4.3e-2,1.7e-2],[4.5e-2,3.8e-2],[4.7e-2,2.4e-2],[5.0e-2,3.2e-2],[5.2e-2,2.0e-2],[5.5e-2,4.2e-2],[5.8e-2,2.8e-2],[6.0e-2,5.0e-2],[6.3e-2,3.5e-2],[6.6e-2,2.4e-2],[7.0e-2,6.0e-2],[7.3e-2,4.0e-2],[7.7e-2,7.5e-2],[8.0e-2,5.0e-2],[8.5e-2,9.0e-2],[9.0e-2,6.5e-2],[9.5e-2,0.1],[0.1,0.08],[0.105,0.11],[0.11,0.095],[0.115,0.12],[0.12,0.07],[0.1,0.055],[0.09,0.045],[0.13,0.1],[0.14,0.11],[0.15,0.105],[0.125,0.045],
[1.5e-2,1.2e-2],[1.6e-2,1.6e-2],[1.7e-2,9e-3],[1.2e-2,1.1e-2],[1.3e-2,8e-3],[1.0e-2,1.0e-2],[1.1e-2,6e-3],[1.8e-2,1.2e-2],[1.9e-2,7e-3],[2.4e-2,9e-3],[2.9e-2,1.1e-2],[3.6e-2,1.0e-2],[4.2e-2,1.2e-2],[3.3e-2,6e-3],[3.8e-2,5e-3],[4.3e-2,8e-3],[2.6e-2,6.5e-3],[7.5e-3,6.5e-3],[8.5e-3,9e-3],[5.5e-3,4.5e-3],
[1.3e-2,1.3e-2],[1.4e-2,1.0e-2],[1.5e-2,1.5e-2],[1.6e-2,1.1e-2],[1.7e-2,1.4e-2],[1.8e-2,1.7e-2],[1.9e-2,1.3e-2],[2.0e-2,1.9e-2],[2.1e-2,1.4e-2],[2.2e-2,1.7e-2],[2.3e-2,2.3e-2],[2.4e-2,1.6e-2],[2.5e-2,2.1e-2],[2.6e-2,1.5e-2],[2.7e-2,2.7e-2],[2.8e-2,1.8e-2],[2.9e-2,2.3e-2],[3.0e-2,2.0e-2],[3.1e-2,2.9e-2],[3.2e-2,2.4e-2],[3.4e-2,2.0e-2],[3.5e-2,2.7e-2],[3.7e-2,3.1e-2],[3.8e-2,2.2e-2],[4.0e-2,3.0e-2],[4.1e-2,2.5e-2],[4.4e-2,3.4e-2],[4.6e-2,2.8e-2],[4.9e-2,4.0e-2],[5.3e-2,3.5e-2],[5.6e-2,4.8e-2],[6.1e-2,4.0e-2],[6.5e-2,5.5e-2],[6.8e-2,4.6e-2],[7.2e-2,6.8e-2],[7.9e-2,6.0e-2],[8.3e-2,7.2e-2],[8.8e-2,8.0e-2],[9.3e-2,8.8e-2],[0.098,0.095],[0.102,0.09],[0.108,0.1],[0.113,0.085],[0.09,0.1],[0.08,0.085],[0.07,0.075],[1.8e-2,6e-3],[2.2e-2,8e-3],[2.6e-2,1.0e-2],[3.0e-2,8e-3],[3.4e-2,1.2e-2],[2.0e-2,4.5e-3],[2.5e-2,3.5e-3],[3.3e-2,4e-3],[4.0e-2,6.5e-3],[4.6e-2,1.6e-2],[5.5e-2,1.5e-2],[6.5e-2,2.0e-2],[1.4e-2,5e-3],[8e-3,5e-3],[1.1e-2,8e-3]
];
const eccBest = [[6.2e-3,2.5e-3]];

// ---------- Axis ranges and tick values ----------
const massXRange = [0.1, 10], massYRange = [0.01, 10];
const slopeXRange = [-1, 0.3], slopeYRange = [0.02, 6.2];
const periodXRange = [1.1, 3.0], periodYRange = [0.01, 5];
const eccXRange = [1e-4, 0.3], eccYRange = [1e-4, 1];

const massXLabels = [0.1, 1, 10];
const massYLabels = [0.01, 0.1, 1, 10];
const slopeXLabels = [-1, -0.8, -0.6, -0.4, -0.2, 0, 0.2];
const slopeYLabels = [0.1, 1];
const periodXLabels = [1.2, 1.4, 1.6, 1.8, 2, 2.2, 2.4, 2.6, 2.8];
const periodXMinor = [1.15,1.25,1.3,1.35,1.45,1.5,1.55,1.65,1.7,1.75,1.85,1.9,1.95,2.05,2.1,2.15,2.25,2.3,2.35,2.45,2.5,2.55,2.65,2.7,2.75,2.85,2.9,2.95];
const periodYLabels = [0.01, 0.1, 1];
const eccXLabels = [1e-4, 1e-3, 1e-2, 1e-1];
const eccYLabels = [1e-4, 1e-3, 1e-2, 1e-1, 1];

function logMinor(lo, hi) {
  const out = [];
  for (let e = -6; e <= 2; e++) {
    for (let m = 2; m <= 9; m++) {
      const v = +(m * Math.pow(10, e)).toPrecision(6);
      if (v > lo * 1.0001 && v < hi * 0.9999) out.push(v);
    }
  }
  return out;
}

const AX = '#262626';
const FONT = '"Liberation Sans", Arial, Helvetica, sans-serif';
const MAJ = 16, MIN = 8;

const TICKRICH = {
  b: {fontSize: 13, fontFamily: FONT, color: AX, padding: [3, 0, 0, 0], verticalAlign: 'top'},
  s: {fontSize: 9, fontFamily: FONT, color: AX, verticalAlign: 'top'},
  n: {fontSize: 13, fontFamily: FONT, color: AX}
};
const NAMERICH = {
  n: {fontSize: 17, fontFamily: FONT, color: AX, padding: [3, 0, 0, 0], verticalAlign: 'top'},
  g: {fontSize: 17, fontFamily: '"DejaVu Serif", serif', fontStyle: 'italic', color: AX, padding: [3, 0, 0, 0], verticalAlign: 'top'},
  s: {fontSize: 14, fontFamily: FONT, color: AX, padding: [12, 0, 0, 0], verticalAlign: 'top'},
  ss: {fontSize: 11, fontFamily: FONT, color: AX, padding: [21, 0, 0, 0], verticalAlign: 'top'},
  o: {fontSize: 12, fontFamily: '"DejaVu Sans", sans-serif', color: AX, padding: [13, 0, 0, 0], verticalAlign: 'top'}
};

const powFmt = v => '{b|10}{s|' + Math.round(Math.log10(v)) + '}';
const numFmt = v => '{n|' + String(+v.toFixed(2)) + '}';

const xAxes = [], yAxes = [];
const mainX = [], mainY = [];

function addAxes(list, mains, dim, grid, type, range, major, minor, majLen, labels, fmt, name, nameGap, margin) {
  const pos = dim === 'x' ? ['bottom', 'top'] : ['left', 'right'];
  const base = {type: type, gridIndex: grid, min: range[0], max: range[1], splitLine: {show: false}, silent: true, axisPointer: {show: false}};
  if (type === 'log') base.logBase = 10;
  pos.forEach((p, i) => {
    if (i === 0) mains.push(list.length);
    list.push(Object.assign({}, base, {
      position: p,
      axisLine: {show: true, onZero: false, lineStyle: {color: AX, width: 1}},
      axisTick: {show: true, inside: true, length: majLen, customValues: major, lineStyle: {color: AX, width: 1}},
      axisLabel: i === 0 ? {show: true, customValues: labels, formatter: fmt, margin: margin, color: AX, fontFamily: FONT, fontSize: 13, rich: TICKRICH} : {show: false},
      name: i === 0 ? name : '',
      nameLocation: 'middle', nameGap: nameGap,
      nameTextStyle: {color: AX, rich: NAMERICH}
    }));
    if (minor && minor.length) {
      list.push(Object.assign({}, base, {
        position: p,
        axisLine: {show: false, onZero: false},
        axisTick: {show: true, inside: true, length: MIN, customValues: minor, lineStyle: {color: AX, width: 1}},
        axisLabel: {show: false}
      }));
    }
  });
}

// Panel 1
addAxes(xAxes, mainX, 'x', 0, 'log', massXRange, massXLabels, logMinor(0.1, 10), MAJ, massXLabels, powFmt,
  '{g|μ}{s|mass}{n| (M}{o|⊕}{n|)}', 32, 7);
addAxes(yAxes, mainY, 'y', 0, 'log', massYRange, massYLabels, logMinor(0.01, 10), MAJ, massYLabels, powFmt,
  '{g|σ}{s|mass}{n| (M}{o|⊕}{n|)}', 34, 5);
// Panel 2
addAxes(xAxes, mainX, 'x', 1, 'value', slopeXRange, slopeXLabels, null, MAJ, slopeXLabels, numFmt,
  '{n|dM}{s|p}{n|/dP  (M}{o|⊕}{n|/day)}', 27, 8);
addAxes(yAxes, mainY, 'y', 1, 'log', slopeYRange, slopeYLabels, logMinor(0.02, 6.2), MAJ, slopeYLabels, powFmt,
  '{g|σ}{n|(M}{s|p}{n|-M}{s|cp}{n|)  (M}{o|⊕}{n|)}', 30, 5);
// Panel 3
addAxes(xAxes, mainX, 'x', 2, 'log', periodXRange, periodXLabels, periodXMinor, MAJ, periodXLabels, numFmt,
  '{g|μ}{s|P}{ss|2}{s|/P}{ss|1}', 25, 8);
addAxes(yAxes, mainY, 'y', 2, 'log', periodYRange, periodYLabels, logMinor(0.01, 5), MAJ, periodYLabels, powFmt,
  '{g|σ}{s|P}{ss|2}{s|/P}{ss|1}', 29, 5);
// Panel 4
addAxes(xAxes, mainX, 'x', 3, 'log', eccXRange, eccXLabels, logMinor(1e-4, 0.3), MAJ, eccXLabels, powFmt,
  '{g|μ}{s|e}', 27, 6);
addAxes(yAxes, mainY, 'y', 3, 'log', eccYRange, eccYLabels, logMinor(1e-4, 1), MAJ, eccYLabels, powFmt,
  '{g|σ}{s|e}', 32, 5);

function dots(data, color, p, z) {
  return {type: 'scatter', data: data, xAxisIndex: mainX[p], yAxisIndex: mainY[p], symbol: 'circle', symbolSize: 7,
    itemStyle: {color: color, opacity: 1}, z: z, silent: true, animation: false};
}
function cross(data, p) {
  return {type: 'scatter', data: data, xAxisIndex: mainX[p], yAxisIndex: mainY[p], symbol: 'path://M0,0L10,10M10,0L0,10',
    symbolSize: 19, itemStyle: {color: 'none', borderColor: '#19e619', borderWidth: 2.6}, z: 10, silent: true, animation: false};
}

const series = [
  dots(massRed, '#ff0000', 0, 2), dots(massBlue, '#0000ff', 0, 3), cross(massBest, 0),
  dots(slopeRed, '#ff0000', 1, 2), dots(slopeBlue, '#0000ff', 1, 3), cross(slopeBest, 1),
  dots(periodRed, '#ff0000', 2, 2), dots(periodBlue, '#0000ff', 2, 3), cross(periodBest, 2),
  dots(eccRed, '#ff0000', 3, 2), dots(eccBlue, '#0000ff', 3, 3), cross(eccBest, 3)
];

const chart = echarts.init(document.getElementById('c'), null, {renderer: 'canvas'});
chart.setOption({
  backgroundColor: '#ffffff',
  animation: false,
  title: {text: 'Coleman et al: Pebbles vs Planetesimals', left: 'center', top: 6,
    textStyle: {fontFamily: '"Liberation Serif", "DejaVu Serif", serif', fontSize: 12.5, fontWeight: 'normal', color: '#222'}},
  grid: [
    {left: 68, top: 84, width: 398, height: 207},
    {left: 591, top: 84, width: 399, height: 207},
    {left: 68, top: 379, width: 398, height: 206},
    {left: 591, top: 379, width: 399, height: 206}
  ],
  xAxis: xAxes,
  yAxis: yAxes,
  series: series
});
</script></body></html>
